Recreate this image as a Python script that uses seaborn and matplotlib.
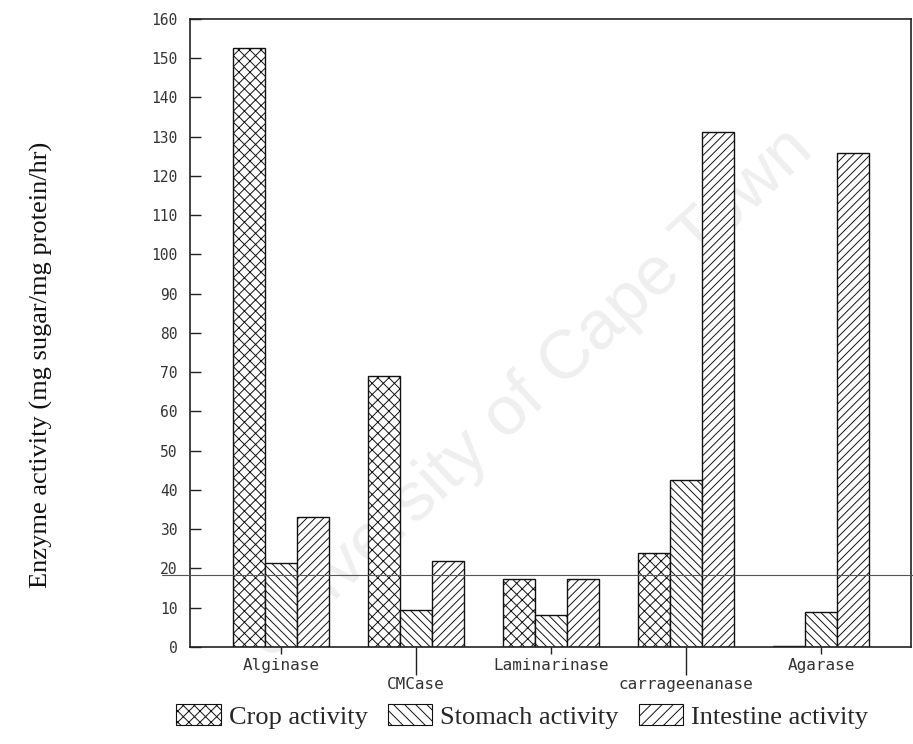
import matplotlib
matplotlib.use("Agg")
import matplotlib.pyplot as plt
from matplotlib.patches import Patch
from matplotlib.lines import Line2D
import seaborn as sns
import pandas as pd

# Enzyme activities (mg sugar / mg protein / hr) by gut region
enzymes = ["Alginase", "CMCase", "Laminarinase", "carrageenanase", "Agarase"]
crop = [152.5, 69.0, 17.3, 24.0, 0.3]
stomach = [21.4, 9.4, 8.2, 42.5, 8.9]
intestine = [33.1, 21.9, 17.3, 131.2, 125.9]
regions = ["Crop activity", "Stomach activity", "Intestine activity"]
yticks = list(range(0, 161, 10))

df = pd.DataFrame({
    "enzyme": enzymes * 3,
    "region": [regions[0]] * 5 + [regions[1]] * 5 + [regions[2]] * 5,
    "activity": crop + stomach + intestine,
})

sns.set_style("white")
plt.rcParams["hatch.linewidth"] = 0.7
plt.rcParams["hatch.color"] = "#2a2a2a"

fig = plt.figure(figsize=(9.13, 7.44), dpi=100)
ax = fig.add_axes([0.208, 0.1304, 0.790, 0.8441])
ax.patch.set_alpha(0)

# faint background watermark
fig.text(0.58, 0.47, "University of Cape Town", rotation=43, fontsize=50,
         family="Liberation Sans", color="#efefef", ha="center", va="center",
         zorder=-5)

sns.barplot(data=df, x="enzyme", y="activity", hue="region", order=enzymes,
            hue_order=regions, width=0.71, gap=0, palette=["white"] * 3,
            edgecolor="#111111", linewidth=1.0, legend=False, ax=ax, zorder=2)

hatches = ["xxx", "\\\\\\\\", "////"]
for cont, h in zip(ax.containers, hatches):
    for bar in cont:
        bar.set_hatch(h)
        bar.set_facecolor("white")

ax.set_xlim(-0.674, 4.667)
ax.set_ylim(0, 160)
ax.set_yticks(yticks)
ax.set_yticklabels([str(v) for v in yticks], family="DejaVu Sans Mono",
                   fontsize=10.5, color="#333333")
ax.tick_params(axis="y", direction="in", length=8, width=1.0, pad=9,
               left=True, color="#222222")

ax.set_xticks([0, 2, 4])
ax.set_xticklabels([enzymes[0], enzymes[2], enzymes[4]],
                   family="DejaVu Sans Mono", fontsize=11.5, color="#333333")
ax.set_xticks([1, 3], minor=True)
ax.set_xticklabels([enzymes[1], enzymes[3]], minor=True,
                   family="DejaVu Sans Mono", fontsize=11.5, color="#333333")
ax.tick_params(axis="x", which="major", direction="out", length=5, width=1.0,
               pad=3, bottom=True, color="#222222")
ax.tick_params(axis="x", which="minor", direction="out", length=20, width=1.0,
               pad=1.5, bottom=True, color="#222222")
ax.set_xlabel("")
ax.set_ylabel("")

for s in ax.spines.values():
    s.set_visible(True)
    s.set_color("#222222")
    s.set_linewidth(1.2)

fig.text(0.045, 0.51, "Enzyme activity (mg sugar/mg protein/hr)", rotation=90,
         family="Liberation Serif", fontsize=19, color="#111111",
         ha="center", va="center")

# thin horizontal rule crossing the page
fig.add_artist(Line2D([162 / 913, 1.0], [1 - 575 / 744, 1 - 575 / 744],
                      color="#555555", linewidth=0.8))

handles = [Patch(facecolor="white", edgecolor="#111111", hatch=h, linewidth=0.8)
           for h in ["xxx", "\\\\\\", "///"]]
fig.legend(handles, regions, loc="center", bbox_to_anchor=(0.572, 0.037),
           ncol=3, frameon=False, prop={"family": "Liberation Serif", "size": 19},
           handlelength=1.7, handleheight=0.8, handletextpad=0.3,
           columnspacing=0.75, borderaxespad=0)

fig.savefig("out.png", dpi=100)
